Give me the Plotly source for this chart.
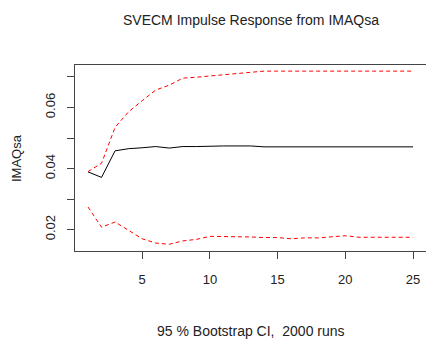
import plotly.graph_objects as go

horizon = list(range(1, 26))
irf = [0.0389, 0.0371, 0.0458, 0.0465, 0.0468, 0.0472, 0.0467, 0.0472, 0.0472, 0.0474,
       0.0474, 0.0474, 0.0474, 0.0471, 0.0471, 0.0471, 0.0471, 0.0471, 0.0471, 0.0471,
       0.0471, 0.0471, 0.0471, 0.0471, 0.0471]
upper = [0.0390, 0.0417, 0.0535, 0.0586, 0.0622, 0.0657, 0.0673, 0.0696, 0.0699, 0.0703,
         0.0708, 0.0711, 0.0716, 0.0719, 0.0719, 0.0719, 0.0717, 0.0717, 0.0717, 0.0717,
         0.0717, 0.0719, 0.0719, 0.0719, 0.0719]
lower = [0.0274, 0.0208, 0.0225, 0.0198, 0.0170, 0.0156, 0.0152, 0.0163, 0.0168, 0.0178,
         0.0178, 0.0178, 0.0176, 0.0174, 0.0174, 0.0170, 0.0173, 0.0173, 0.0176, 0.0180,
         0.0175, 0.0175, 0.0175, 0.0175, 0.0175]

x_ticks = [5, 10, 15, 20, 25]
y_ticks = [0.02, 0.03, 0.04, 0.05, 0.06, 0.07]
y_ticktext = ["0.02", "", "0.04", "", "0.06", ""]

FONT = "Liberation Sans, Arial, sans-serif"

fig = go.Figure()
fig.add_trace(go.Scatter(x=horizon, y=irf, mode="lines",
                         line=dict(color="black", width=1), showlegend=False))
fig.add_trace(go.Scatter(x=horizon, y=upper, mode="lines",
                         line=dict(color="red", width=1, dash="4px,3px"), showlegend=False))
fig.add_trace(go.Scatter(x=horizon, y=lower, mode="lines",
                         line=dict(color="red", width=1, dash="4px,3px"), showlegend=False))

fig.update_layout(
    width=426, height=340,
    margin=dict(l=75, r=0, t=65, b=89),
    paper_bgcolor="white", plot_bgcolor="white",
    font=dict(family=FONT, size=13, color="#222222"),
    xaxis=dict(range=[0.04, 25.96], tickvals=x_ticks, showgrid=False, zeroline=False,
               showline=True, linecolor="#444444", linewidth=1, mirror=True,
               ticks="outside", ticklen=7, tickcolor="#444444", ticklabelstandoff=9,
               tickfont=dict(size=13, color="#222222")),
    yaxis=dict(range=[0.0130, 0.0739], tickvals=y_ticks, ticktext=y_ticktext,
               showgrid=False, zeroline=False,
               showline=True, linecolor="#444444", linewidth=1,
               ticks="outside", ticklen=7, tickcolor="#444444", tickangle=-90,
               ticklabelstandoff=7,
               tickfont=dict(size=13, color="#222222")),
    annotations=[
        dict(text="SVECM Impulse Response from IMAQsa", xref="paper", yref="paper",
             x=0.5, y=1, yshift=45, showarrow=False, font=dict(size=14, color="#222222"),
             xanchor="center", yanchor="middle"),
        dict(text="95 % Bootstrap CI,  2000 runs", xref="paper", yref="paper",
             x=0.5, y=0, yshift=-80, showarrow=False, font=dict(size=14, color="#222222"),
             xanchor="center", yanchor="middle"),
        dict(text="IMAQsa", xref="paper", yref="paper",
             x=0, xshift=-59, y=0.5, textangle=-90, showarrow=False,
             font=dict(size=13, color="#222222"), xanchor="center", yanchor="middle"),
    ],
)

fig.write_html("out.html")
